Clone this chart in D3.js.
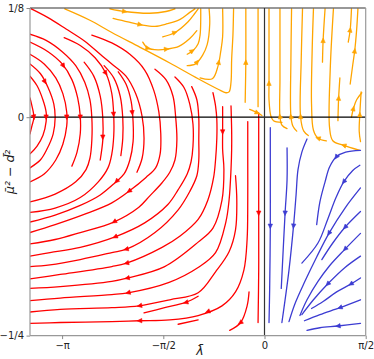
<!DOCTYPE html>
<html><head><meta charset="utf-8">
<script src="https://cdn.jsdelivr.net/npm/d3@7"></script>
<style>body{margin:0;background:#fff}svg{display:block}</style>
</head><body>
<svg id="chart" width="374" height="359"></svg>
<script>
// ---- axes data ----
const xDomain = [-3.64, Math.PI / 2];
const yDomain = [-0.25, 0.125];
const xTicks = [-Math.PI, -Math.PI / 2, 0, Math.PI / 2];
const xTickLabels = ["\u2212\u03C0", "\u2212\u03C0/2", "0", "\u03C0/2"];
const yTicks = [0.125, 0, -0.25];
const yTickLabels = ["1/8", "0", "\u22121/4"];
const xLabel = "\u03BB\u0304";
const yLabel = "\u03BC\u0304\u00B2 \u2212 d\u0304\u00B2";

// ---- streamlines [lambda, mu^2-d^2], in flow order ----
const redStreamlines = [
  [[-3.64,.022],[-3.61,.013],[-3.58,0],[-3.61,-.010],[-3.64,-.019]],
  [[-3.64,.047],[-3.53,.036],[-3.44,.020],[-3.39,.006],[-3.39,-.005],[-3.44,-.021],[-3.53,-.033],[-3.64,-.042]],
  [[-3.64,.061],[-3.48,.050],[-3.36,.034],[-3.27,.015],[-3.25,-.001],[-3.28,-.019],[-3.38,-.037],[-3.48,-.049],[-3.64,-.058]],
  [[-3.64,.072],[-3.42,.061],[-3.24,.045],[-3.13,.027],[-3.07,.006],[-3.07,-.010],[-3.13,-.031],[-3.24,-.049],[-3.42,-.065],[-3.64,-.074]],
  [[-3.64,.086],[-3.36,.075],[-3.14,.061],[-2.99,.043],[-2.90,.022],[-2.86,.001],[-2.86,-.019],[-2.91,-.040],[-2.99,-.056]],
  [[-3.64,.095],[-3.39,.088],[-3.14,.075],[-2.93,.059],[-2.79,.040],[-2.71,.020],[-2.68,-.001],[-2.68,-.026],[-2.71,-.047],[-2.77,-.060],[-2.93,-.074],[-3.25,-.088],[-3.64,-.097]],
  [[-2.80,.063],[-2.65,.047],[-2.55,.024],[-2.51,-.001],[-2.51,-.026],[-2.55,-.049]],
  [[-3.11,.091],[-2.86,.082],[-2.63,.068],[-2.46,.050],[-2.37,.027],[-2.34,.001],[-2.34,-.021],[-2.37,-.042],[-2.43,-.058],[-2.58,-.074],[-2.86,-.092],[-3.25,-.104],[-3.64,-.109]],
  [[-2.49,.059],[-2.34,.045],[-2.24,.024],[-2.20,-.001],[-2.20,-.024],[-2.23,-.044]],
  [[-2.27,.052],[-2.15,.038],[-2.07,.018],[-2.04,-.005],[-2.04,-.028],[-2.09,-.049],[-2.18,-.065],[-2.32,-.075],[-2.55,-.089],[-2.86,-.101],[-3.25,-.112],[-3.64,-.120]],
  [[-3.62,.124],[-3.36,.114],[-3.08,.101],[-2.79,.087],[-2.55,.072],[-2.37,.061],[-2.15,.047],[-2.00,.027],[-1.90,.001],[-1.87,-.024],[-1.90,-.047],[-1.98,-.063]],
  [[-2.68,.094],[-2.37,.085],[-2.09,.072],[-1.86,.054],[-1.72,.031],[-1.64,.006],[-1.61,-.019],[-1.62,-.042],[-1.69,-.058],[-1.84,-.069],[-2.09,-.084],[-2.37,-.098],[-2.79,-.111],[-3.25,-.123],[-3.64,-.132]],
  [[-1.70,.055],[-1.53,.043],[-1.42,.024],[-1.38,.001],[-1.36,-.026],[-1.39,-.049],[-1.47,-.063],[-1.59,-.075],[-1.78,-.090],[-1.95,-.103],[-2.34,-.120],[-2.86,-.132],[-3.25,-.140],[-3.64,-.145]],
  [[-1.39,.046],[-1.25,.034],[-1.16,.015],[-1.11,-.008],[-1.11,-.033],[-1.14,-.051],[-1.20,-.065],[-1.34,-.083],[-1.50,-.100],[-1.86,-.121],[-2.32,-.137],[-2.86,-.149],[-3.33,-.155],[-3.64,-.159]],
  [[-1.13,.035],[-1.05,.020],[-1.02,-.001],[-1.02,-.026],[-1.02,-.049],[-1.05,-.067],[-1.16,-.085],[-1.34,-.106],[-1.70,-.132],[-2.14,-.151],[-2.37,-.155],[-2.86,-.163],[-3.33,-.169],[-3.64,-.171]],
  [[-0.80,.028],[-0.76,.013],[-0.74,-.003],[-0.74,-.024],[-0.76,-.049],[-0.79,-.069],[-0.88,-.095],[-1.03,-.117],[-1.31,-.136],[-1.59,-.149],[-2.14,-.167],[-2.37,-.171],[-3.17,-.180],[-3.64,-.185]],
  [[-0.65,.012],[-0.65,-.003],[-0.65,-.017],[-0.65,-.037],[-0.63,-.060],[-0.66,-.095],[-0.80,-.127],[-1.03,-.143],[-1.55,-.171],[-2.12,-.184],[-2.37,-.188],[-3.17,-.194],[-3.64,-.196]],
  [[-0.52,.013],[-0.51,-.015],[-0.51,-.037],[-0.52,-.060],[-0.55,-.095],[-0.60,-.120],[-0.76,-.155],[-1.03,-.172],[-1.48,-.189],[-2.12,-.201],[-2.37,-.203],[-3.17,-.207],[-3.64,-.210]],
  [[-0.45,-.067],[-0.43,-.095],[-0.45,-.129],[-0.55,-.154],[-0.76,-.177],[-1.03,-.201],[-1.47,-.209],[-1.95,-.216],[-2.37,-.218],[-3.17,-.220],[-3.64,-.223]],
  [[-0.26,-.005],[-0.26,-.049],[-0.26,-.095],[-0.27,-.140],[-0.32,-.175],[-0.45,-.200],[-0.66,-.216],[-1.03,-.227],[-1.47,-.232],[-1.95,-.233],[-2.37,-.234],[-3.17,-.235],[-3.64,-.236]],
  [[-0.09,.005],[-0.09,-.037],[-0.09,-.112],[-0.09,-.175],[-0.10,-.235]],
  [[-0.24,-.200],[-0.27,-.216],[-0.37,-.235],[-0.54,-.244]],
  [[-1.03,-.205],[-1.22,-.212],[-1.55,-.218],[-1.87,-.224]],
  [[-1.03,-.232],[-1.34,-.237]]
];
const orangeStreamlines = [
  [[-3.10,.124],[-2.71,.111],[-2.37,.097],[-1.93,.080],[-1.47,.062],[-1.03,.044],[-0.72,.032],[-0.60,.028],[-0.55,.029],[-0.52,.040],[-0.51,.066],[-0.49,.094],[-0.48,.124]],
  [[-2.40,.124],[-2.17,.121],[-1.78,.119],[-1.53,.121],[-1.39,.124]],
  [[-2.35,.113],[-2.12,.109],[-1.93,.106],[-1.70,.104],[-1.51,.107],[-1.31,.112],[-1.16,.120],[-1.08,.124]],
  [[-1.89,.086],[-1.81,.079],[-1.65,.077],[-1.51,.078],[-1.33,.081],[-1.16,.090],[-1.05,.099]],
  [[-1.58,.092],[-1.39,.097],[-1.19,.109],[-1.08,.119],[-1.03,.124]],
  [[-1.20,.072],[-1.10,.077],[-1.03,.084],[-1.00,.094],[-0.99,.111],[-0.99,.124]],
  [[-1.20,.059],[-1.07,.061],[-0.96,.071],[-0.89,.083],[-0.85,.107],[-0.86,.124]],
  [[-1.00,.045],[-0.81,.044],[-0.72,.059],[-0.68,.075],[-0.65,.092],[-0.65,.124]],
  [[-0.30,.017],[-0.29,.063],[-0.29,.124]],
  [[-0.10,.012],[-0.10,.066],[-0.10,.124]],
  [[-0.23,.009],[-0.11,.005],[-0.04,.002]],
  [[0.27,-.006],[0.14,-.004],[0.10,.001],[0.07,.020],[0.07,.038],[0.07,.088],[0.07,.124]],
  [[0.35,-.013],[0.27,-.009],[0.24,.001],[0.24,.043],[0.24,.124]],
  [[0.50,-.016],[0.44,-.010],[0.41,.001],[0.41,.066],[0.42,.124]],
  [[0.68,-.021],[0.61,-.016],[0.56,0],[0.57,.066],[0.59,.124]],
  [[0.96,-.027],[0.83,-.024],[0.76,-.015],[0.73,.015],[0.74,.077],[0.76,.124]],
  [[0.90,.063],[0.91,.088],[0.94,.124]],
  [[1.48,-.038],[1.22,-.032],[1.06,-.027],[1.01,-.012],[1.02,.054],[1.07,.124]],
  [[1.14,-.004],[1.15,.021],[1.17,.045]],
  [[1.30,.086],[1.33,.100],[1.35,.124]],
  [[1.33,.038],[1.37,.060],[1.40,.076],[1.43,.100],[1.45,.124]],
  [[1.35,0],[1.38,.010],[1.43,.020],[1.51,.028]],
  [[1.49,-.028],[1.47,-.016],[1.48,.004],[1.50,.029]]
];
const blueStreamlines = [
  [[0.09,-.012],[0.09,-.072],[0.09,-.125],[0.08,-.197],[0.07,-.235]],
  [[0.35,-.035],[0.35,-.072],[0.32,-.109],[0.29,-.152],[0.26,-.196]],
  [[0.66,-.025],[0.58,-.040],[0.52,-.060],[0.49,-.089],[0.45,-.125],[0.38,-.175],[0.27,-.235]],
  [[1.49,-.038],[1.26,-.040],[1.12,-.045],[1.01,-.057],[0.94,-.074],[0.86,-.097],[0.81,-.123]],
  [[1.48,-.055],[1.37,-.061],[1.23,-.074],[1.11,-.092],[0.98,-.117],[0.83,-.144],[0.58,-.167]],
  [[1.49,-.081],[1.25,-.104],[1.00,-.133],[0.81,-.160],[0.62,-.189],[0.47,-.214],[0.38,-.234]],
  [[1.49,-.108],[1.25,-.126],[1.06,-.144],[0.89,-.163]],
  [[1.49,-.133],[1.25,-.151],[1.01,-.170],[0.83,-.188],[0.66,-.209],[0.55,-.227]],
  [[1.49,-.159],[1.25,-.172],[0.98,-.191],[0.76,-.209],[0.58,-.226]],
  [[1.49,-.184],[1.34,-.191],[1.12,-.200],[0.91,-.211],[0.73,-.219]],
  [[1.49,-.209],[1.17,-.218],[0.86,-.226],[0.62,-.233]],
  [[1.49,-.236],[1.14,-.239],[0.86,-.241],[0.66,-.244]]
];

// ---- arrow locations [lambda, mu^2-d^2] ----
const redArrows = [[-3.58,0],[-3.38,0],[-3.42,.040],[-3.07,0],[-3.07,.061],[-2.88,0],[-2.47,.050],[-2.58,-.023],
  [-2.37,.003],[-2.05,.005],[-2.29,-.074],[-2.10,-.085],[-2.34,-.119],[-2.32,-.137],[-2.15,-.151],[-2.14,-.168],
  [-2.13,-.185],[-2.12,-.201],[-1.94,-.216],[-1.94,-.233],[-1.22,-.213],[-0.37,-.236],[-0.86,-.227],[-0.64,-.017],[-0.09,-.110]];
const orangeArrows = [[-2.17,.121],[-1.93,.106],[-1.39,.097],[-1.81,.078],[-1.52,.078],[-1.13,.077],[-1.04,.063],
  [-0.71,.063],[-0.29,.063],[-0.11,.005],[0.07,.039],[0.24,.001],[0.41,.001],[0.56,.001],[0.83,-.024],[1.23,-.032],
  [0.91,.088],[1.33,.100],[1.40,.076],[1.15,.022],[1.38,.010],[1.48,.003]];
const blueArrows = [[0.09,-.125],[0.32,-.110],[0.47,-.125],[1.12,-.046],[1.23,-.074],[1.00,-.133],[1.25,-.126],
  [1.25,-.151],[0.98,-.191],[1.34,-.191],[1.17,-.218],[1.14,-.239]];

const colors = {red: "#ff0000", orange: "#ffa500", blue: "#3c3cd2"};

// ---- drawing ----
const svg = d3.select("#chart");
const plot = {l: 30, r: 365.7, t: 8, b: 335.6};
const x = d3.scaleLinear().domain(xDomain).range([plot.l, plot.r]);
const y = d3.scaleLinear().domain(yDomain).range([plot.b, plot.t]);

svg.append("defs").append("clipPath").attr("id", "clip")
  .append("rect").attr("x", plot.l).attr("y", plot.t)
  .attr("width", plot.r - plot.l).attr("height", plot.b - plot.t);

const g = svg.append("g").attr("clip-path", "url(#clip)");
const line = d3.line().x(d => x(d[0])).y(d => y(d[1])).curve(d3.curveCatmullRom.alpha(0.5));

function drawLines(data, color) {
  g.append("g").selectAll("path").data(data).join("path")
    .attr("d", line).attr("fill", "none").attr("stroke", color)
    .attr("stroke-width", 1.3).attr("stroke-linecap", "round").attr("stroke-linejoin", "round");
}
drawLines(redStreamlines, colors.red);
drawLines(orangeStreamlines, colors.orange);
drawLines(blueStreamlines, colors.blue);

// zero lines
g.append("line").attr("x1", plot.l).attr("x2", plot.r).attr("y1", y(0)).attr("y2", y(0))
  .attr("stroke", "#000").attr("stroke-width", 1.2);
g.append("line").attr("x1", x(0)).attr("x2", x(0)).attr("y1", plot.t).attr("y2", plot.b)
  .attr("stroke", "#333").attr("stroke-width", 1.2);

function drawArrows(lines, arrows, color) {
  const pxLines = lines.map(l => l.map(p => [x(p[0]), y(p[1])]));
  const heads = arrows.map(a => {
    const P = [x(a[0]), y(a[1])];
    let best = null;
    pxLines.forEach(l => {
      for (let i = 0; i < l.length - 1; i++) {
        const A = l[i], B = l[i + 1];
        const dx = B[0] - A[0], dy = B[1] - A[1];
        const L2 = dx * dx + dy * dy;
        if (!L2) continue;
        let t = ((P[0] - A[0]) * dx + (P[1] - A[1]) * dy) / L2;
        t = Math.max(0, Math.min(1, t));
        const qx = A[0] + t * dx, qy = A[1] + t * dy;
        const d = (P[0] - qx) ** 2 + (P[1] - qy) ** 2;
        if (!best || d < best.d) best = {d, qx, qy, ang: Math.atan2(dy, dx)};
      }
    });
    const c = Math.cos(best.ang), s = Math.sin(best.ang);
    const len = 4.6, hw = 2.2;
    const tip = [best.qx + c * len / 2, best.qy + s * len / 2];
    const bx = best.qx - c * len / 2, by = best.qy - s * len / 2;
    return [tip, [bx - s * hw, by + c * hw], [bx + s * hw, by - c * hw]];
  });
  g.append("g").selectAll("path").data(heads).join("path")
    .attr("d", d => "M" + d.map(p => p[0].toFixed(2) + "," + p[1].toFixed(2)).join("L") + "Z")
    .attr("fill", color).attr("stroke", color).attr("stroke-width", 0.6);
}
drawArrows(redStreamlines, redArrows, colors.red);
drawArrows(orangeStreamlines, orangeArrows, colors.orange);
drawArrows(blueStreamlines, blueArrows, colors.blue);

// frame
const frame = svg.append("g").attr("fill", "none");
frame.append("line").attr("x1", plot.l).attr("x2", plot.r).attr("y1", plot.t).attr("y2", plot.t).attr("stroke", "#333").attr("stroke-width", 1.2);
frame.append("line").attr("x1", plot.l).attr("x2", plot.l).attr("y1", plot.t).attr("y2", plot.b).attr("stroke", "#999").attr("stroke-width", 1.2);
frame.append("line").attr("x1", plot.r).attr("x2", plot.r).attr("y1", plot.t).attr("y2", plot.b).attr("stroke", "#999").attr("stroke-width", 1.2);
frame.append("line").attr("x1", plot.l).attr("x2", plot.r).attr("y1", plot.b).attr("y2", plot.b).attr("stroke", "#999").attr("stroke-width", 1.2);

// axes
const font = "'DejaVu Sans', sans-serif";
const xAxis = svg.append("g").attr("transform", `translate(0,${plot.b})`)
  .call(d3.axisBottom(x).tickValues(xTicks).tickFormat((d, i) => xTickLabels[i]).tickSize(3.5).tickPadding(2.5));
const yAxis = svg.append("g").attr("transform", `translate(${plot.l},0)`)
  .call(d3.axisLeft(y).tickValues(yTicks).tickFormat((d, i) => yTickLabels[i]).tickSize(3.5).tickPadding(2.5));
[xAxis, yAxis].forEach(a => {
  a.select(".domain").remove();
  a.selectAll(".tick line").attr("stroke", "#888");
  a.selectAll(".tick text").attr("fill", "#222").style("font-family", font).style("font-size", "10px");
});

svg.append("text").attr("x", (plot.l + plot.r) / 2 + 2).attr("y", 355)
  .attr("text-anchor", "middle").style("font-family", font).style("font-size", "12.5px")
  .style("font-style", "italic").attr("fill", "#222").text(xLabel);
svg.append("text").attr("transform", `translate(14,${(plot.t + plot.b) / 2}) rotate(-90)`)
  .attr("text-anchor", "middle").style("font-family", font).style("font-size", "12.5px")
  .style("font-style", "italic").attr("fill", "#222").text(yLabel);
</script>
</body></html>
